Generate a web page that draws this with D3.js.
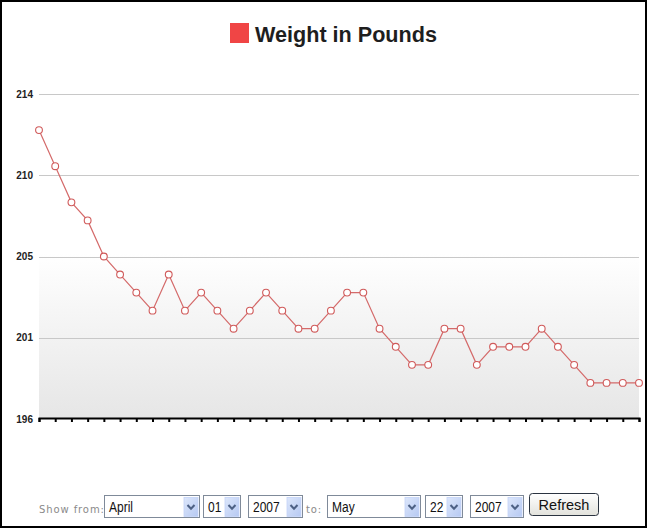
<!DOCTYPE html>
<html><head><meta charset="utf-8">
<script src="https://cdn.jsdelivr.net/npm/d3@7"></script>
<style>
html,body{margin:0;padding:0;background:#fff;}
svg{display:block;}
</style></head>
<body>
<svg id="chart" width="647" height="528"></svg>
<script>
// ---- data ----
const title = "Weight in Pounds";
const points = ["1","2","3","4","5","6","7","8","9","10","11","12","13","14","15","16","17","18","19","20","21","22","23","24","25","26","27","28","29","30","31","32","33","34","35","36","37","38"];
const weights = [212,210,208,207,205,204,203,202,204,202,203,202,201,202,203,202,201,201,202,203,203,201,200,199,199,201,201,199,200,200,200,201,200,199,198,198,198,198];
const yTickValues = [196,200.5,205,209.5,214];
const yTickLabels = ["196","201","205","210","214"];
const fromParts = ["April","01","2007"];
const toParts = ["May","22","2007"];

(function(){
const svg = d3.select("#chart");
const W = 647, H = 528;
const pLeft = 39, pRight = 639, pTop = 94, pBottom = 419;

// frame
svg.append("rect").attr("x",1).attr("y",1).attr("width",W-2).attr("height",H-2)
  .attr("fill","#fff").attr("stroke","#000").attr("stroke-width",2);

const defs = svg.append("defs");
const g1 = defs.append("linearGradient").attr("id","bg").attr("x1",0).attr("y1",0).attr("x2",0).attr("y2",1);
g1.append("stop").attr("offset","0").attr("stop-color","#ffffff");
g1.append("stop").attr("offset","0.35").attr("stop-color","#f6f6f6");
g1.append("stop").attr("offset","1").attr("stop-color","#e6e6e6");
const g2 = defs.append("linearGradient").attr("id","btn").attr("x1",0).attr("y1",0).attr("x2",0).attr("y2",1);
g2.append("stop").attr("offset","0").attr("stop-color","#ffffff");
g2.append("stop").attr("offset","1").attr("stop-color","#e2e2dc");
const g3 = defs.append("linearGradient").attr("id","arr").attr("x1",0).attr("y1",0).attr("x2",1).attr("y2",1);
g3.append("stop").attr("offset","0").attr("stop-color","#dde7fb");
g3.append("stop").attr("offset","1").attr("stop-color","#b6c9f2");

const x = d3.scalePoint().domain(points).range([pLeft,pRight]);
const y = d3.scaleLinear().domain([196,214]).range([pBottom,pTop]);

// background gradient
svg.append("rect").attr("x",pLeft).attr("y",y(205)-3).attr("width",pRight-pLeft).attr("height",pBottom-y(205)+3)
  .attr("fill","url(#bg)");

// gridlines
svg.append("g").selectAll("line").data(yTickValues.slice(1)).join("line")
  .attr("x1",pLeft).attr("x2",pRight)
  .attr("y1",d=>Math.round(y(d))+0.5).attr("y2",d=>Math.round(y(d))+0.5)
  .attr("stroke","#c8c8c8").attr("stroke-width",1);

// y axis labels
const yAxis = d3.axisLeft(y).tickValues(yTickValues).tickFormat((d,i)=>yTickLabels[i]).tickSize(0).tickPadding(6);
const ya = svg.append("g").attr("transform",`translate(${pLeft},0)`).call(yAxis);
ya.select(".domain").remove();
ya.selectAll("text").attr("font-family","Liberation Sans, Arial, sans-serif")
  .attr("font-weight","bold").attr("font-size","10px").attr("fill","#222");

// x axis
const xAxis = d3.axisBottom(x).tickFormat("").tickSize(4).tickSizeOuter(4);
const xa = svg.append("g").attr("transform",`translate(0,${pBottom-1})`).call(xAxis);
xa.select(".domain").attr("stroke","#000").attr("stroke-width",2);
xa.selectAll(".tick line").attr("stroke","#000").attr("stroke-width",2);

// line
const lineGen = d3.line().x((d,i)=>x(points[i])).y(d=>y(d));
svg.append("path").datum(weights).attr("d",lineGen)
  .attr("fill","none").attr("stroke","#d46a6a").attr("stroke-width",1.2);
svg.append("g").selectAll("circle").data(weights).join("circle")
  .attr("cx",(d,i)=>x(points[i])).attr("cy",d=>y(d)).attr("r",3.4)
  .attr("fill","#fff").attr("stroke","#d05a5a").attr("stroke-width",1.1);

// title / legend
svg.append("rect").attr("x",230).attr("y",23).attr("width",19).attr("height",20).attr("fill","#f04545");
svg.append("text").attr("x",255).attr("y",42).text(title)
  .attr("font-family","Liberation Sans, Arial, sans-serif").attr("font-weight","bold")
  .attr("font-size","21.6px").attr("fill","#1e1e1e");

// form row
const form = svg.append("g");
const labelStyle = s => s.attr("font-family","DejaVu Sans, Verdana, sans-serif").attr("font-size","10px")
  .attr("fill","#8a8a8a").attr("letter-spacing","0.9px");
form.append("text").attr("x",39).attr("y",513).text("Show from:").call(labelStyle);
form.append("text").attr("x",306).attr("y",513).text("to:").call(labelStyle);

const boxes = [
  {t:fromParts[0], x:104, w:95},
  {t:fromParts[1], x:203, w:37},
  {t:fromParts[2], x:248, w:54},
  {t:toParts[0], x:327, w:93},
  {t:toParts[1], x:425, w:37},
  {t:toParts[2], x:470, w:53}
];
const by = 495, bh = 22;
const sel = form.selectAll("g.sel").data(boxes).join("g").attr("class","sel");
sel.append("rect").attr("x",d=>d.x+0.5).attr("y",by+0.5).attr("width",d=>d.w).attr("height",bh)
  .attr("fill","#fff").attr("stroke","#7f8a99");
sel.append("rect").attr("x",d=>d.x+d.w-15).attr("y",by+2.5).attr("width",14).attr("height",bh-3)
  .attr("fill","url(#arr)").attr("stroke","#c3d3f8").attr("stroke-width",0.8);
sel.append("path").attr("d",d=>{const cx=d.x+d.w-8, cy=by+12; return `M${cx-3.5},${cy-2} L${cx},${cy+1.8} L${cx+3.5},${cy-2}`;})
  .attr("fill","none").attr("stroke","#4d6185").attr("stroke-width",2);
sel.append("text").attr("x",d=>d.x+5).attr("y",by+17).text(d=>d.t)
  .attr("font-family","Liberation Sans, Arial, sans-serif").attr("font-size","15px").attr("fill","#111")
  .attr("transform",d=>`translate(${d.x+5},0) scale(0.8,1) translate(${-(d.x+5)},0)`);

// refresh button
form.append("rect").attr("x",529.5).attr("y",493.5).attr("width",69).attr("height",22).attr("rx",3)
  .attr("fill","url(#btn)").attr("stroke","#2a3340").attr("stroke-width",1);
form.append("text").attr("x",564).attr("y",510).attr("text-anchor","middle").text("Refresh")
  .attr("font-family","Liberation Sans, Arial, sans-serif").attr("font-size","14.5px").attr("fill","#111");
})();
</script>
</body></html>
